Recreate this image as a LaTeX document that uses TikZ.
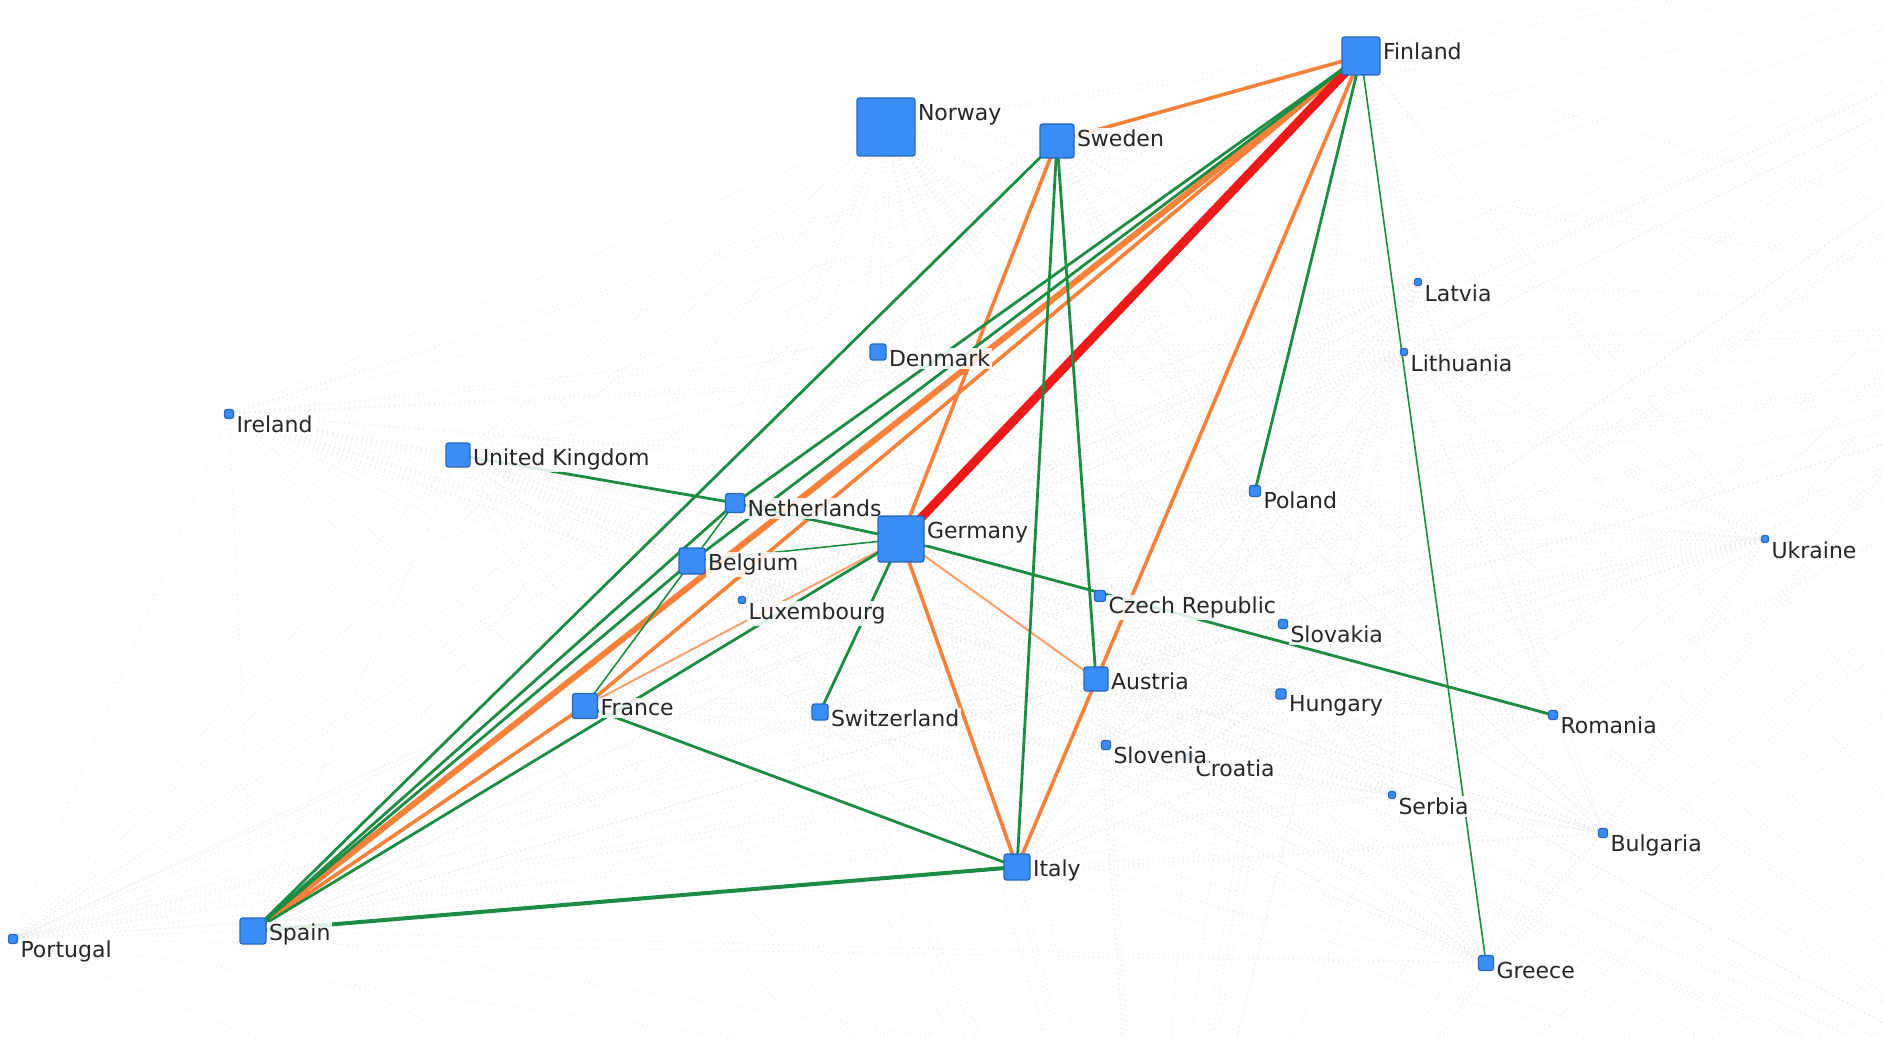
\documentclass[tikz,border=0pt]{standalone}
\usepackage{fontspec}
\setmainfont{DejaVu Sans}
\definecolor{linkgreen}{HTML}{1C8C43}
\definecolor{linkorange}{HTML}{F5813A}
\definecolor{linkred}{HTML}{EE1A1A}
\definecolor{vertexblue}{HTML}{3A8DF4}
\definecolor{vertexedge}{HTML}{2766BE}
\newcommand\countrylist{fi,no,se,lv,lt,dk,ie,uk,nl,de,be,lu,pl,ua,cz,sk,at,hu,ro,fr,ch,si,hr,rs,bg,it,es,pt,gr,far1,far2,far3,far4}

\begin{document}
\begin{tikzpicture}%
	[x=0.5pt, y=-0.5pt,
	back/.style={color=gray!17, dotted, line width=0.5pt},
	link/.style={color=linkgreen, line width=1.4pt, line cap=round},
	weak/.style={link, line width=0.8pt},
	strong/.style={color=linkorange, line width=1.8pt, line cap=round},
	faint/.style={strong, color=linkorange!75, line width=1pt},
	heavy/.style={strong, line width=3pt},
	hub/.style={color=linkred, line width=4.4pt, line cap=round},
	vertex/.style={draw=vertexedge, fill=vertexblue, line width=0.6pt, rounded corners=1.2pt, inner sep=0pt, minimum size=#1},
	country/.style={anchor=north west, yshift=-2.2pt, inner sep=1pt, fill=white, fill opacity=0.85, text opacity=1, text=black!85, font=\fontsize{11}{13}\selectfont}]
%
\useasboundingbox (0,0) rectangle (1883,1037);
\clip (0,0) rectangle (1883,1037);
%
%% Coordinates of the countries:
%%
\coordinate (fi) at (1361,56);
\coordinate (no) at (886,127);
\coordinate (se) at (1057,141);
\coordinate (lv) at (1418,282);
\coordinate (lt) at (1404,352);
\coordinate (dk) at (878,352);
\coordinate (ie) at (229,414);
\coordinate (uk) at (458,455);
\coordinate (nl) at (735,503);
\coordinate (de) at (901,539);
\coordinate (be) at (692,561);
\coordinate (lu) at (742,600);
\coordinate (pl) at (1255,491);
\coordinate (ua) at (1765,539);
\coordinate (cz) at (1100,596);
\coordinate (sk) at (1283,624);
\coordinate (at) at (1096,679);
\coordinate (hu) at (1281,694);
\coordinate (ro) at (1553,715);
\coordinate (fr) at (585,706);
\coordinate (ch) at (820,712);
\coordinate (si) at (1106,745);
\coordinate (hr) at (1189,757);
\coordinate (rs) at (1392,795);
\coordinate (bg) at (1603,833);
\coordinate (it) at (1017,867);
\coordinate (es) at (253,931);
\coordinate (pt) at (13,939);
\coordinate (gr) at (1486,963);
%% outside the frame
\coordinate (far1) at (2350,-120);
\coordinate (far2) at (2300,320);
\coordinate (far3) at (1150,1400);
\coordinate (far4) at (2300,1250);
%%
%%
%% Drawing edges in the back
%%
\foreach \a [count=\i] in \countrylist
	\foreach \b [count=\j] in \countrylist
		{\ifnum\j>\i \draw[back] (\a) -- (\b);\fi}
%%
%%
%% Drawing the orange and red links
%%
\draw[strong] (fi) -- (se);
\draw[strong] (fi) -- (fr);
\draw[strong] (fi) -- (it);
\draw[strong] (se) -- (de);
\draw[strong] (de) -- (it);
\draw[strong] (fr) -- (es);
\draw[faint] (de) -- (fr);
\draw[faint] (de) -- (at);
\draw[heavy] (fi) -- (es);
\draw[hub] (fi) -- (de);
%%
%%
%% Drawing the green links
%%
\draw[link] (se) -- (es);
\draw[link] (se) -- (it);
\draw[link] (se) -- (at);
\draw[link] (fi) -- (nl);
\draw[link] (fi) -- (be);
\draw[link] (fi) -- (pl);
\draw[weak] (fi) -- (gr);
\draw[link] (uk) -- (nl);
\draw[link] (nl) -- (de);
\draw[weak] (be) -- (de);
\draw[link] (de) -- (es);
\draw[link] (de) -- (ch);
\draw[link] (de) -- (ro);
\draw[link] (fr) -- (it);
\draw[link, line width=2pt] (es) -- (it);
\draw[link] (nl) -- (es);
\draw[link] (be) -- (es);
\draw[weak] (nl) -- (fr);
%%
%%
%% Drawing the countries
%%
\node[vertex=3.5pt] (hr box) at (hr) {};
\node[country] (hr text) at (hr box.north east) {Croatia};
\node[vertex=19pt] (fi box) at (fi) {};
\node[country] (fi text) at (fi box.north east) {Finland};
\node[vertex=29pt] (no box) at (no) {};
\node[country] (no text) at (no box.north east) {Norway};
\node[vertex=17pt] (se box) at (se) {};
\node[country] (se text) at (se box.north east) {Sweden};
\node[vertex=3.5pt] (lv box) at (lv) {};
\node[country] (lv text) at (lv box.north east) {Latvia};
\node[vertex=3.5pt] (lt box) at (lt) {};
\node[country] (lt text) at (lt box.north east) {Lithuania};
\node[vertex=8pt] (dk box) at (dk) {};
\node[country] (dk text) at (dk box.north east) {Denmark};
\node[vertex=4.5pt] (ie box) at (ie) {};
\node[country] (ie text) at (ie box.north east) {Ireland};
\node[vertex=12pt] (uk box) at (uk) {};
\node[country] (uk text) at (uk box.north east) {United Kingdom};
\node[vertex=9.5pt] (nl box) at (nl) {};
\node[country] (nl text) at (nl box.north east) {Netherlands};
\node[vertex=23pt] (de box) at (de) {};
\node[country] (de text) at (de box.north east) {Germany};
\node[vertex=13pt] (be box) at (be) {};
\node[country] (be text) at (be box.north east) {Belgium};
\node[vertex=3.5pt] (lu box) at (lu) {};
\node[country] (lu text) at (lu box.north east) {Luxembourg};
\node[vertex=5.5pt] (pl box) at (pl) {};
\node[country] (pl text) at (pl box.north east) {Poland};
\node[vertex=3.5pt] (ua box) at (ua) {};
\node[country] (ua text) at (ua box.north east) {Ukraine};
\node[vertex=5.5pt] (cz box) at (cz) {};
\node[country] (cz text) at (cz box.north east) {Czech Republic};
\node[vertex=4.5pt] (sk box) at (sk) {};
\node[country] (sk text) at (sk box.north east) {Slovakia};
\node[vertex=12pt] (at box) at (at) {};
\node[country] (at text) at (at box.north east) {Austria};
\node[vertex=5pt] (hu box) at (hu) {};
\node[country] (hu text) at (hu box.north east) {Hungary};
\node[vertex=4.5pt] (ro box) at (ro) {};
\node[country] (ro text) at (ro box.north east) {Romania};
\node[vertex=12.5pt] (fr box) at (fr) {};
\node[country] (fr text) at (fr box.north east) {France};
\node[vertex=8pt] (ch box) at (ch) {};
\node[country] (ch text) at (ch box.north east) {Switzerland};
\node[vertex=4.5pt] (si box) at (si) {};
\node[country] (si text) at (si box.north east) {Slovenia};
\node[vertex=3.5pt] (rs box) at (rs) {};
\node[country] (rs text) at (rs box.north east) {Serbia};
\node[vertex=4.5pt] (bg box) at (bg) {};
\node[country] (bg text) at (bg box.north east) {Bulgaria};
\node[vertex=13pt] (it box) at (it) {};
\node[country] (it text) at (it box.north east) {Italy};
\node[vertex=13pt] (es box) at (es) {};
\node[country] (es text) at (es box.north east) {Spain};
\node[vertex=4.5pt] (pt box) at (pt) {};
\node[country] (pt text) at (pt box.north east) {Portugal};
\node[vertex=7.5pt] (gr box) at (gr) {};
\node[country] (gr text) at (gr box.north east) {Greece};
%%
%%
\end{tikzpicture}
\end{document}
